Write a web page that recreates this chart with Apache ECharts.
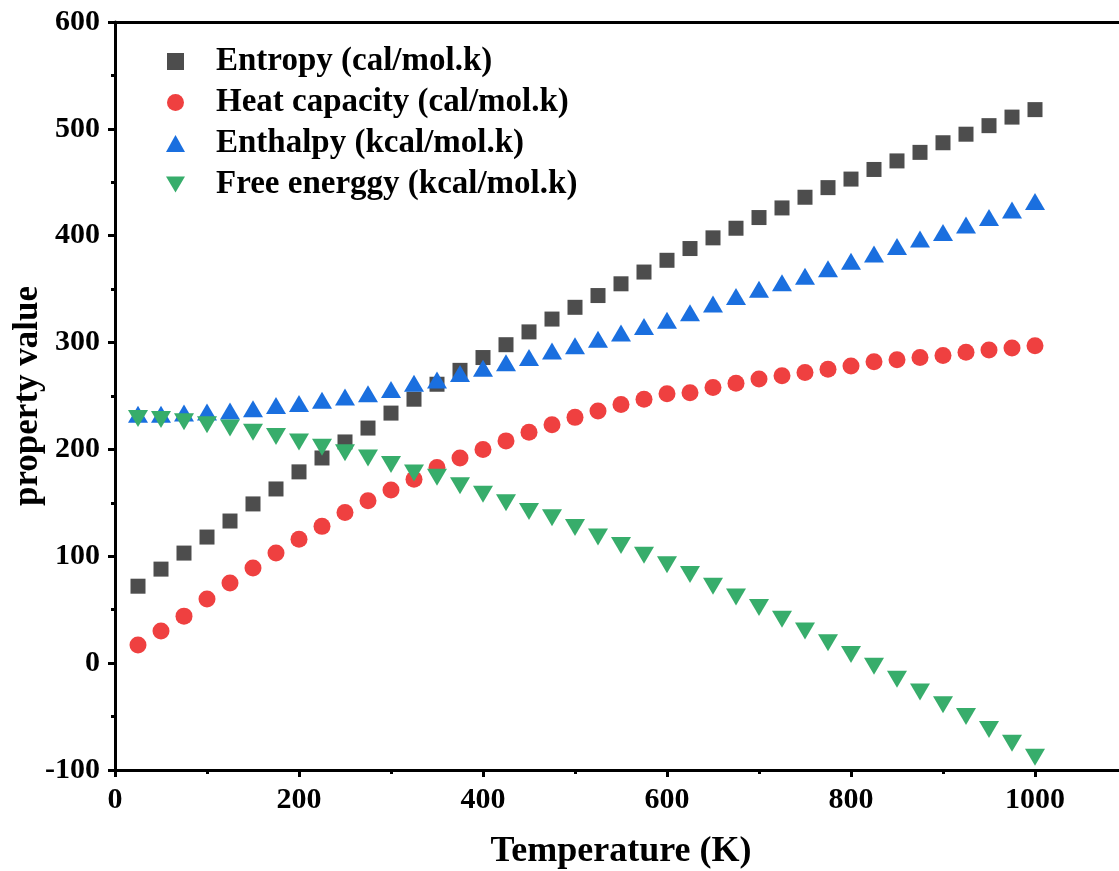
<!DOCTYPE html>
<html>
<head>
<meta charset="utf-8">
<script src="https://cdn.jsdelivr.net/npm/echarts@6/dist/echarts.min.js"></script>
<style>
html,body{margin:0;padding:0;background:#fff;}
#main{width:1119px;height:871px;}
</style>
</head>
<body>
<div id="main"></div>
<script>
const temperature = [25,50,75,100,125,150,175,200,225,250,275,300,325,350,375,400,425,450,475,500,525,550,575,600,625,650,675,700,725,750,775,800,825,850,875,900,925,950,975,1000];
const entropy = [72,88,103,118,133,149,163,179,192,207,220,234,247,261,274,286,298,310,322,333,344,355,366,377,388,398,407,417,426,436,445,453,462,470,478,487,495,503,511,518];
const heatCapacity = [17,30,44,60,75,89,103,116,128,141,152,162,172,183,192,200,208,216,223,230,236,242,247,252,253,258,262,266,269,272,275,278,282,284,286,288,291,293,295,297];
const enthalpy = [233,233,234,235,236,238,241,243,246,249,252,256,262,265,271,276,281,286,292,297,303,309,315,321,328,336,343,350,356,362,369,376,383,390,397,403,410,417,424,432];
const freeEnergy = [229,228,226,223,220,216,212,207,202,197,192,186,178,174,166,158,150,142,136,127,118,110,101,92,83,72,62,52,41,30,19,8,-3,-15,-27,-39,-50,-62,-75,-88];
const seriesNames = ['Entropy (cal/mol.k)','Heat capacity (cal/mol.k)','Enthalpy (kcal/mol.k)','Free energgy (kcal/mol.k)'];

function pairs(ys){ return temperature.map((t,i)=>[t, ys[i]]); }

const font = '"Liberation Serif","Times New Roman",serif';
const downTri = 'path://M0,0L20,0L10,17Z';
const chart = echarts.init(document.getElementById('main'), null, {renderer:'canvas'});
chart.setOption({
  backgroundColor:'#fff',
  animation:false,
  grid:{left:115, top:22, right:-8, bottom:101, containLabel:false, outerBoundsMode:'none'},
  legend:{
    orient:'vertical', left:161, top:40, itemGap:8,
    itemWidth:19, itemHeight:17,
    textStyle:{fontFamily:font, fontWeight:'bold', fontSize:33, color:'#000', padding:[0,0,0,26]},
    data:[
      {name:seriesNames[0], icon:'path://M0,0L15,0L15,15L0,15Z'},
      {name:seriesNames[1], icon:'circle'},
      {name:seriesNames[2], icon:'triangle'},
      {name:seriesNames[3], icon:downTri}
    ]
  },
  xAxis:[{
    type:'value', min:0, max:1100, interval:200,
    name:'Temperature (K)', nameLocation:'middle', nameGap:64,
    nameTextStyle:{fontFamily:font, fontWeight:'bold', fontSize:36, color:'#000'},
    axisLine:{onZero:false, lineStyle:{color:'#000', width:3}},
    axisTick:{inside:false, length:7, lineStyle:{color:'#000', width:3}},
    minorTick:{show:true, splitNumber:2, length:4, lineStyle:{color:'#000', width:3}},
    axisLabel:{fontFamily:font, fontWeight:'bold', fontSize:30, color:'#000', margin:15, showMaxLabel:false, formatter:(v)=>String(v)},
    splitLine:{show:false}
  },{
    type:'value', min:0, max:1100, position:'top',
    axisLine:{show:true, onZero:false, lineStyle:{color:'#000', width:3}},
    axisTick:{show:false}, axisLabel:{show:false}, splitLine:{show:false}
  }],
  yAxis:{
    type:'value', min:-100, max:600, interval:100,
    name:'property value', nameLocation:'middle', nameGap:70, nameMoveOverlap:false,
    nameTextStyle:{fontFamily:font, fontWeight:'bold', fontSize:35, color:'#000'},
    axisLine:{show:true, onZero:false, lineStyle:{color:'#000', width:3}},
    axisTick:{inside:false, length:7, lineStyle:{color:'#000', width:3}},
    minorTick:{show:true, splitNumber:2, length:4, lineStyle:{color:'#000', width:3}},
    axisLabel:{fontFamily:font, fontWeight:'bold', fontSize:30, color:'#000', margin:15, formatter:(v)=>String(v)},
    splitLine:{show:false}
  },
  series:[
    {name:seriesNames[0], type:'scatter', data:pairs(entropy), symbol:'rect', symbolSize:15, itemStyle:{color:'#4d4d4d', opacity:1}},
    {name:seriesNames[1], type:'scatter', data:pairs(heatCapacity), symbol:'circle', symbolSize:17, itemStyle:{color:'#ef4040', opacity:1}},
    {name:seriesNames[2], type:'scatter', data:pairs(enthalpy), symbol:'triangle', symbolSize:[20,17], itemStyle:{color:'#1a6fdf', opacity:1}},
    {name:seriesNames[3], type:'scatter', data:pairs(freeEnergy), symbol:'triangle', symbolRotate:180, symbolSize:[20,17], itemStyle:{color:'#37ad6b', opacity:1}}
  ]
});
</script>
</body>
</html>
